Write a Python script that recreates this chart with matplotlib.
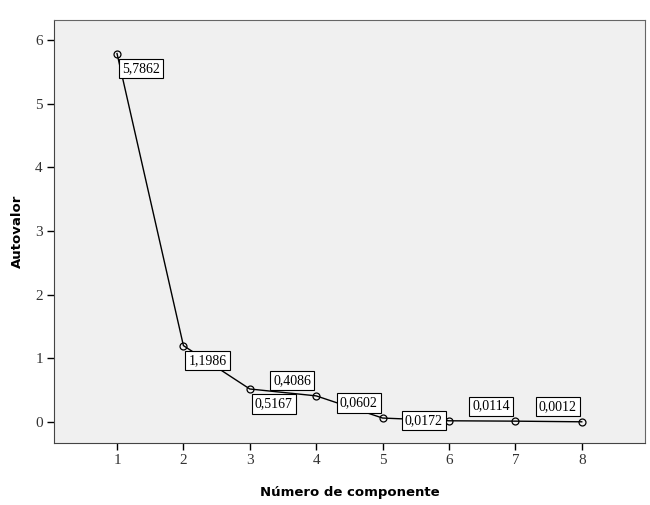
import matplotlib
matplotlib.use("Agg")
import matplotlib.pyplot as plt

# Scree plot data
componentes = [1, 2, 3, 4, 5, 6, 7, 8]
autovalores = [5.7862, 1.1986, 0.5167, 0.4086, 0.0602, 0.0172, 0.0114, 0.0012]
etiquetas = ["5,7862", "1,1986", "0,5167", "0,4086", "0,0602", "0,0172", "0,0114", "0,0012"]
# label offsets in pixels (box centre relative to point)
offsets = [(24, -15), (24, -15), (24, -15), (-24, 15), (-24, 15), (-25, 0), (-24, 15), (-24, 15)]

serif = "Liberation Serif"
sans = "DejaVu Sans"

fig = plt.figure(figsize=(6.5, 5.05), dpi=100)
ax = fig.add_axes([0.083, 0.123, 0.909, 0.837])
ax.set_facecolor("#f0f0f0")

ax.plot(componentes, autovalores, color="black", linewidth=1.0, marker="o",
        markersize=5, markerfacecolor="none", markeredgecolor="black",
        markeredgewidth=0.9, zorder=3)

for x, y, lab, off in zip(componentes, autovalores, etiquetas, offsets):
    ax.annotate(lab, (x, y), xytext=off, textcoords="offset pixels",
                ha="center", va="center", fontsize=10, family=serif,
                bbox=dict(boxstyle="square,pad=0.22", facecolor="white",
                          edgecolor="black", linewidth=0.8), zorder=4)

ax.set_xlim(0.05, 8.95)
ax.set_ylim(-0.33, 6.31)
ax.set_xticks(componentes)
ax.set_yticks(range(0, 7))
ax.tick_params(direction="out", length=5, width=1, labelsize=11, pad=3)
for lbl in ax.get_xticklabels() + ax.get_yticklabels():
    lbl.set_family(serif)
    lbl.set_color("#333333")

for side in ["top", "right"]:
    ax.spines[side].set_color("#666666")
for side in ["left", "bottom"]:
    ax.spines[side].set_color("#444444")

ax.set_xlabel("Número de componente", fontsize=9.5, fontweight="bold", family=sans, labelpad=14)
ax.set_ylabel("Autovalor", fontsize=9.5, fontweight="bold", family=sans, labelpad=8)

fig.savefig("out.png", dpi=100)
